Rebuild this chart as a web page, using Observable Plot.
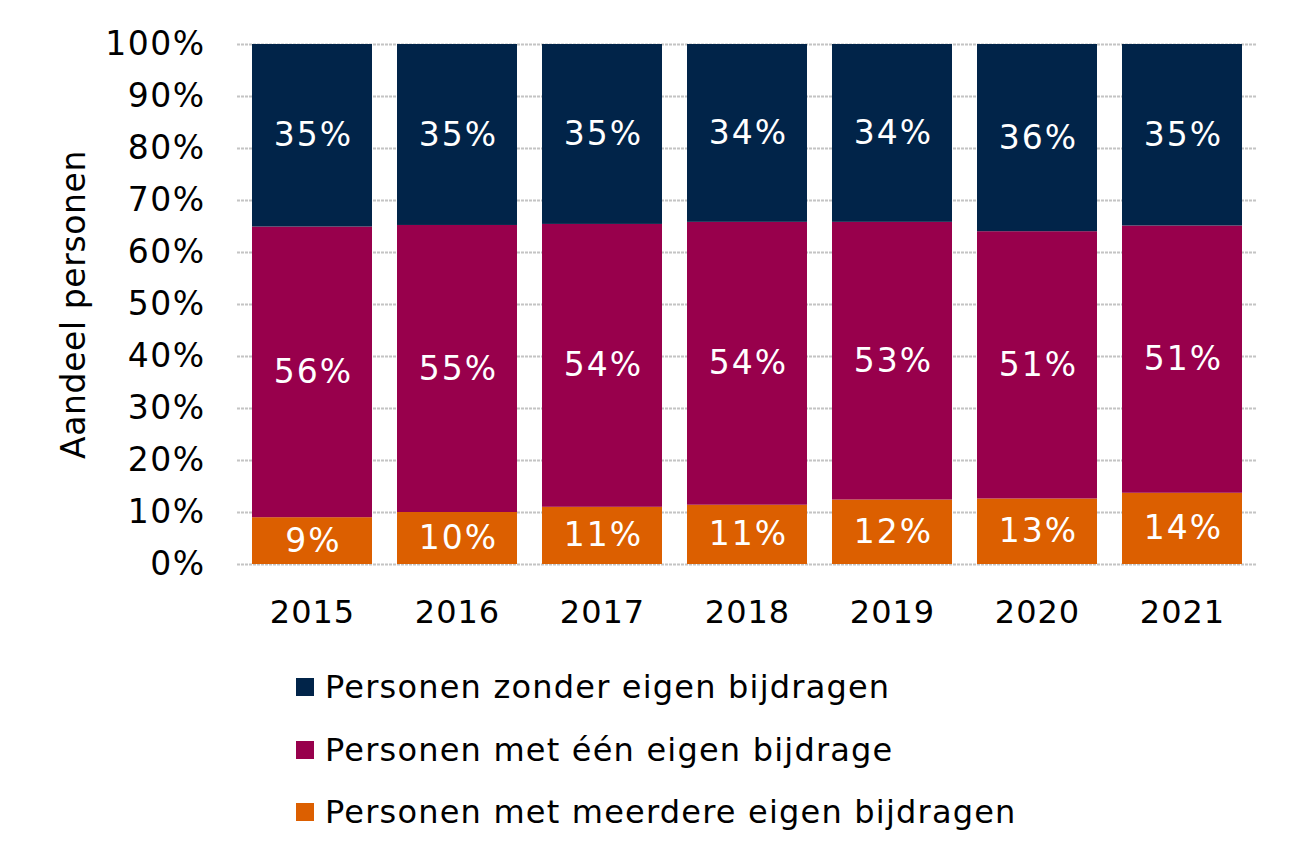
<!DOCTYPE html>
<html>
<head>
<meta charset="utf-8">
<script src="https://cdn.jsdelivr.net/npm/d3@7"></script>
<script src="https://cdn.jsdelivr.net/npm/@observablehq/plot@0.6"></script>
<style>
  html, body { margin: 0; padding: 0; background: #fff; }
  #wrap { position: relative; width: 1299px; height: 866px; font-family: "DejaVu Sans", Verdana, sans-serif; }
  .item { position: absolute; left: 296px; height: 40px; display: flex; align-items: center; font-size: 32px; letter-spacing: 1.2px; color: #000; white-space: nowrap; }
  .sw { width: 18px; height: 18px; margin-right: 11px; }
</style>
</head>
<body>
<div id="wrap"><div id="chart"></div><div id="legend"></div></div>
<script>
const years = ["2015", "2016", "2017", "2018", "2019", "2020", "2021"];
const seriesNames = ["Personen met meerdere eigen bijdragen", "Personen met één eigen bijdrage", "Personen zonder eigen bijdragen"];
const meerdere = [9.0, 10.0, 11.0, 11.4, 12.4, 12.6, 13.7];
const een = [55.9, 55.2, 54.4, 54.4, 53.4, 51.4, 51.4];
const zonder = [35.1, 34.8, 34.6, 34.2, 34.2, 36.0, 34.9];
const yTicks = [0, 10, 20, 30, 40, 50, 60, 70, 80, 90, 100];
const colors = ["#dc5f00", "#98004c", "#012449"];
const legendOrder = [2, 1, 0];

const seriesValues = [meerdere, een, zonder];
const data = [];
seriesNames.forEach((s, i) => {
  years.forEach((y, j) => data.push({year: y, series: s, value: seriesValues[i][j]}));
});

const chart = Plot.plot({
  width: 1299,
  height: 650,
  marginLeft: 237,
  marginRight: 42,
  marginTop: 44,
  marginBottom: 86,
  style: {fontFamily: "DejaVu Sans, Verdana, sans-serif", fontSize: "32px", color: "#000", background: "#fff"},
  x: {domain: years, paddingInner: 0.17, paddingOuter: 0.085, label: null},
  y: {domain: [0, 100], label: null},
  color: {domain: seriesNames, range: colors},
  marks: [
    Plot.ruleY(yTicks, {stroke: "#c4c4c4", strokeWidth: 2, strokeDasharray: "3,1"}),
    Plot.barY(data, {x: "year", y: "value", fill: "series", z: "series"}),
    Plot.text(data, Plot.stackY({x: "year", y: "value", z: "series", text: d => Math.round(d.value) + "%", fill: "white", fontSize: 33, dx: 1})),
    Plot.axisY({ticks: yTicks, tickFormat: d => d + "%", tickSize: 0, tickPadding: 32, fontSize: 33,
      label: "Aandeel personen", labelAnchor: "center", labelArrow: "none", labelOffset: 176}),
    Plot.axisX({tickSize: 0, tickPadding: 36, fontSize: 32, label: null})
  ]
});
const sel = d3.select(chart);
sel.selectAll("g[aria-label='y-axis tick label'] text").attr("letter-spacing", "1.5px");
sel.selectAll("g[aria-label='x-axis tick label'] text").attr("letter-spacing", "1px");
sel.selectAll("g[aria-label='text'] text").attr("letter-spacing", "2px");
sel.selectAll("g[aria-label='y-axis label'] text").attr("letter-spacing", "0.6px");
document.getElementById("chart").appendChild(chart);

const legend = document.getElementById("legend");
const centers = [687, 750, 812];
legendOrder.forEach((si, k) => {
  const item = document.createElement("div");
  item.className = "item";
  item.style.top = (centers[k] - 20) + "px";
  const sw = document.createElement("span");
  sw.className = "sw";
  sw.style.background = colors[si];
  const t = document.createElement("span");
  t.textContent = seriesNames[si];
  item.appendChild(sw);
  item.appendChild(t);
  legend.appendChild(item);
});
</script>
</body>
</html>
